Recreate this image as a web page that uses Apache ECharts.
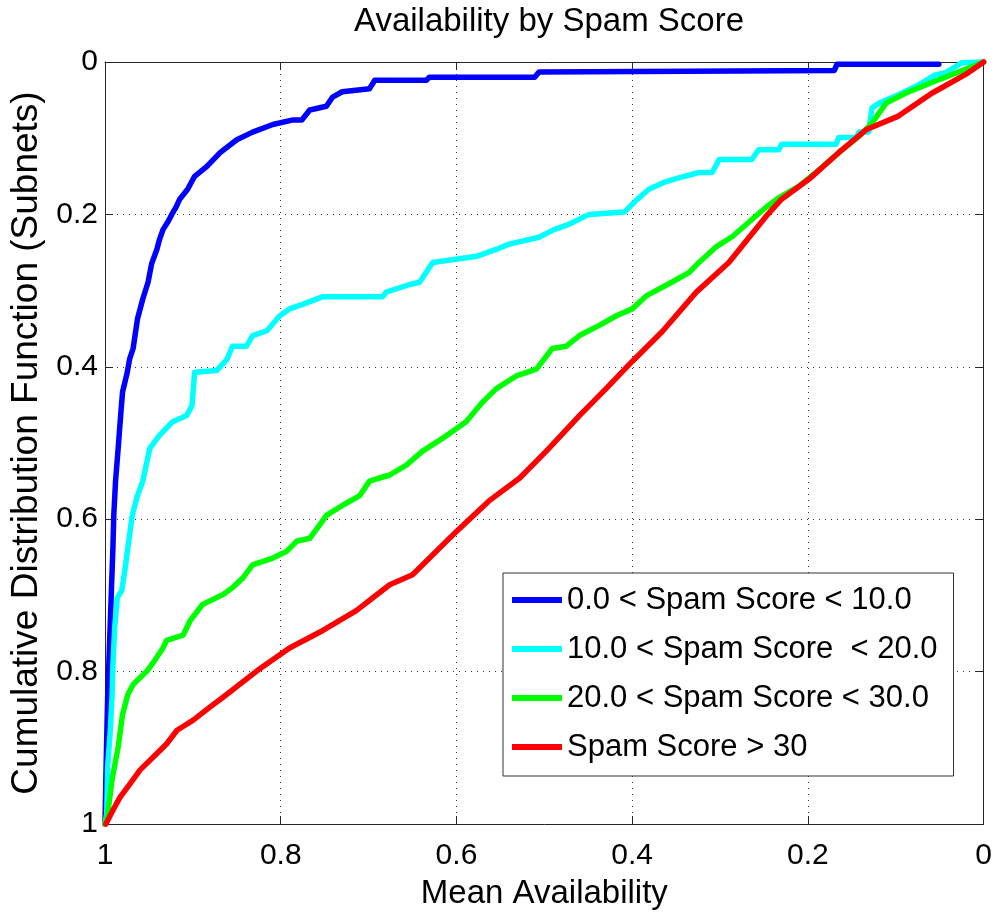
<!DOCTYPE html>
<html>
<head>
<meta charset="utf-8">
<script src="https://cdn.jsdelivr.net/npm/echarts@6/dist/echarts.min.js"></script>
<style>
html,body{margin:0;padding:0;background:#fff;}
#chart{width:995px;height:915px;}
</style>
</head>
<body>
<div id="chart"></div>
<script>
// ---- Data ----
const titleText = 'Availability by Spam Score';
const xAxisName = 'Mean Availability';
const yAxisName = 'Cumulative Distribution Function (Subnets)';
const seriesNames = ['0.0 < Spam Score < 10.0', '10.0 < Spam Score  < 20.0', '20.0 < Spam Score < 30.0', 'Spam Score > 30'];
const seriesColors = ['#0000ff', '#00ffff', '#00ff00', '#ff0000'];

const blueAvail = [1.000,0.999,0.998,0.997,0.995,0.993,0.991,0.990,0.988,0.985,0.982,0.980,0.975,0.972,0.968,0.963,0.957,0.951,0.947,0.941,0.938,0.934,0.928,0.924,0.919,0.915,0.906,0.898,0.884,0.869,0.850,0.832,0.809,0.786,0.776,0.767,0.748,0.741,0.730,0.699,0.693,0.634,0.631,0.511,0.506,0.170,0.167,0.051];
const blueCdf   = [1.000,0.939,0.886,0.834,0.769,0.703,0.638,0.595,0.550,0.507,0.461,0.433,0.409,0.390,0.376,0.337,0.311,0.289,0.265,0.246,0.233,0.220,0.209,0.200,0.190,0.180,0.167,0.150,0.137,0.119,0.102,0.092,0.082,0.076,0.076,0.063,0.058,0.046,0.039,0.035,0.024,0.024,0.020,0.020,0.013,0.011,0.003,0.003];

const cyanAvail = [1.000,0.998,0.997,0.994,0.992,0.991,0.989,0.986,0.981,0.977,0.974,0.969,0.963,0.957,0.949,0.938,0.923,0.907,0.901,0.898,0.873,0.861,0.855,0.839,0.832,0.816,0.801,0.790,0.775,0.752,0.684,0.680,0.653,0.642,0.627,0.577,0.555,0.540,0.506,0.489,0.472,0.449,0.409,0.394,0.381,0.364,0.347,0.324,0.309,0.301,0.264,0.256,0.233,0.230,0.168,0.165,0.145,0.142,0.131,0.127,0.119,0.097,0.074,0.055,0.043,0.025,0.000];
const cyanCdf   = [1.000,0.987,0.925,0.877,0.834,0.791,0.742,0.703,0.694,0.664,0.638,0.595,0.569,0.550,0.507,0.490,0.472,0.464,0.451,0.407,0.405,0.390,0.373,0.373,0.359,0.353,0.333,0.324,0.318,0.308,0.308,0.302,0.292,0.289,0.263,0.255,0.246,0.239,0.230,0.220,0.213,0.200,0.197,0.180,0.167,0.158,0.152,0.145,0.145,0.128,0.128,0.115,0.115,0.108,0.108,0.099,0.099,0.092,0.092,0.060,0.054,0.043,0.030,0.017,0.014,0.001,0.000];

const greenAvail = [1.000,0.997,0.992,0.985,0.980,0.974,0.968,0.952,0.945,0.934,0.930,0.911,0.903,0.889,0.866,0.855,0.843,0.832,0.809,0.793,0.782,0.767,0.756,0.748,0.730,0.710,0.699,0.676,0.657,0.639,0.616,0.589,0.570,0.555,0.532,0.509,0.491,0.475,0.460,0.438,0.418,0.400,0.384,0.355,0.335,0.324,0.305,0.286,0.267,0.248,0.233,0.210,0.191,0.165,0.142,0.127,0.111,0.089,0.059,0.028,0.002,0.000];
const greenCdf   = [1.000,0.987,0.942,0.899,0.856,0.830,0.817,0.799,0.788,0.769,0.759,0.752,0.733,0.712,0.699,0.690,0.677,0.660,0.651,0.642,0.629,0.625,0.608,0.595,0.582,0.569,0.550,0.542,0.529,0.511,0.494,0.472,0.446,0.429,0.412,0.403,0.376,0.373,0.359,0.346,0.333,0.324,0.307,0.289,0.276,0.263,0.243,0.229,0.210,0.191,0.178,0.163,0.145,0.119,0.098,0.080,0.054,0.041,0.027,0.013,0.001,0.000];

const redAvail = [0.999,0.991,0.983,0.972,0.960,0.945,0.930,0.918,0.900,0.881,0.866,0.827,0.790,0.752,0.714,0.676,0.650,0.600,0.563,0.528,0.498,0.460,0.430,0.400,0.366,0.327,0.290,0.248,0.230,0.199,0.165,0.134,0.097,0.059,0.020,0.000];
const redCdf   = [1.000,0.982,0.965,0.948,0.929,0.912,0.895,0.877,0.864,0.847,0.834,0.799,0.769,0.746,0.720,0.686,0.673,0.616,0.576,0.546,0.511,0.464,0.429,0.393,0.354,0.302,0.263,0.203,0.180,0.154,0.119,0.089,0.071,0.041,0.016,0.000];

const xTicks = [0, 0.2, 0.4, 0.6, 0.8, 1];
const yTicks = [0, 0.2, 0.4, 0.6, 0.8, 1];

// ---- Build ----
function pairs(xs, ys) { return xs.map((x, i) => [x, ys[i]]); }
const seriesData = [pairs(blueAvail, blueCdf), pairs(cyanAvail, cyanCdf), pairs(greenAvail, greenCdf), pairs(redAvail, redCdf)];

const FONT = '"Liberation Sans", Arial, Helvetica, sans-serif';
const axisColor = '#262626';

const chart = echarts.init(document.getElementById('chart'), null, {renderer: 'canvas'});

function baseAxis(extra) {
  return Object.assign({
    type: 'value',
    min: xTicks[0],
    max: xTicks[xTicks.length - 1],
    interval: 0.2,
    inverse: true,
    axisLine: {show: true, onZero: false, lineStyle: {color: axisColor, width: 1}},
    axisTick: {show: true, inside: true, length: 8, lineStyle: {color: axisColor, width: 1}},
    splitLine: {show: false},
    axisLabel: {show: false}
  }, extra);
}

const option = {
  animation: false,
  backgroundColor: '#ffffff',
  title: {
    text: titleText,
    left: 549,
    top: 5,
    padding: 0,
    textAlign: 'center',
    textStyle: {fontFamily: FONT, fontSize: 33, fontWeight: 'normal', color: '#000'}
  },
  grid: {left: 105, right: 9, top: 62, bottom: 88, containLabel: false},
  legend: {
    orient: 'vertical',
    left: 503,
    top: 573,
    padding: [9, 16, 11, 9],
    itemWidth: 50,
    itemHeight: 6,
    itemGap: 13,
    icon: 'rect',
    selectedMode: false,
    backgroundColor: '#fff',
    borderColor: '#333',
    borderWidth: 1,
    borderRadius: 0,
    textStyle: {fontFamily: FONT, fontSize: 31, color: '#000', lineHeight: 36},
    data: seriesNames
  },
  xAxis: [
    baseAxis({
      position: 'bottom',
      name: xAxisName,
      nameLocation: 'middle',
      nameGap: 53,
      nameTextStyle: {fontFamily: FONT, fontSize: 33, color: '#000'},
      splitLine: {show: true, lineStyle: {color: '#333', width: 1, type: [1, 5]}},
      axisLabel: {show: true, fontFamily: FONT, fontSize: 30, color: '#000', margin: 17}
    }),
    baseAxis({position: 'top'})
  ],
  yAxis: [
    baseAxis({
      position: 'left',
      min: yTicks[0],
      max: yTicks[yTicks.length - 1],
      name: yAxisName,
      nameLocation: 'middle',
      nameRotate: 90,
      nameGap: 57,
      nameTextStyle: {fontFamily: FONT, fontSize: 37, color: '#000'},
      splitLine: {show: true, lineStyle: {color: '#333', width: 1, type: [1, 5]}},
      axisLabel: {show: true, fontFamily: FONT, fontSize: 30, color: '#000', margin: 7, padding: [8, 0, 0, 0]}
    }),
    baseAxis({position: 'right', min: yTicks[0], max: yTicks[yTicks.length - 1]})
  ],
  series: seriesNames.map((name, i) => ({
    name: name,
    type: 'line',
    xAxisIndex: 0,
    yAxisIndex: 0,
    data: seriesData[i],
    showSymbol: false,
    symbol: 'none',
    clip: false,
    color: seriesColors[i],
    lineStyle: {color: seriesColors[i], width: 5.5, join: 'round', cap: 'round'},
    z: 2 + i
  }))
};

chart.setOption(option);
</script>
</body>
</html>
